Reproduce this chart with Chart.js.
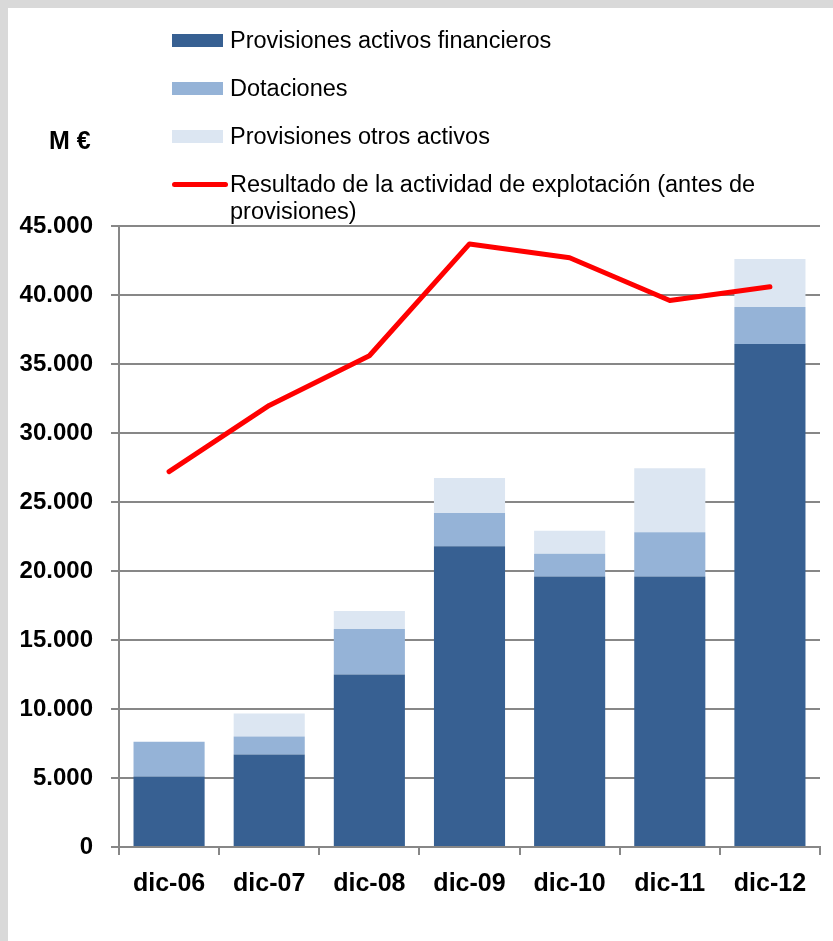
<!DOCTYPE html>
<html>
<head>
<meta charset="utf-8">
<script src="https://cdn.jsdelivr.net/npm/chart.js@4.4.1/dist/chart.umd.min.js"></script>
<style>
  html, body { margin: 0; padding: 0; }
  body { width: 833px; height: 941px; background: #d9d9d9; position: relative; overflow: hidden;
         font-family: "Liberation Sans", Arial, sans-serif; }
  #panel { position: absolute; left: 8px; top: 8px; width: 825px; height: 933px; background: #fff; }
  #grafico { position: absolute; left: 0; top: 0; }
  #unidad { position: absolute; left: 41px; top: 119px; font-weight: bold; font-size: 25px; line-height: 27px; }
  #leyenda { position: absolute; left: 164px; top: 19px; margin: 0; padding: 0; list-style: none; }
  #leyenda li { display: flex; align-items: flex-start; margin-bottom: 21px; font-size: 23.5px; line-height: 27px; color: #000; }
  #leyenda .caja { width: 51px; height: 13px; margin-top: 7px; margin-right: 7px; flex: none; }
  #leyenda .linea { width: 56px; height: 5px; margin-top: 11px; margin-right: 2px; flex: none; border-radius: 3px; }
  #leyenda .texto { max-width: 555px; }
</style>
</head>
<body>
<div id="panel">
  <canvas id="grafico" width="825" height="933"></canvas>
  <div id="unidad">M €</div>
  <ul id="leyenda"></ul>
</div>
<script>
// Datos del gráfico (M €)
const categorias = ["dic-06", "dic-07", "dic-08", "dic-09", "dic-10", "dic-11", "dic-12"];
const provActivosFinancieros = [5100, 6700, 12500, 21800, 19600, 19600, 36450];
const dotaciones = [2500, 1300, 3300, 2400, 1650, 3200, 2680];
const provOtrosActivos = [60, 1670, 1300, 2540, 1670, 4640, 3480];
const resultadoExplotacion = [27200, 32000, 35600, 43700, 42700, 39600, 40600];
const ejeYMax = 45000;
const ejeYPaso = 5000;

const fuente = "'Liberation Sans', Arial, sans-serif";
const gris = "#878787";

// formato 45.000
function miles(v) {
  return String(v).replace(/\B(?=(\d{3})+(?!\d))/g, ".");
}

const data = {
  labels: categorias,
  datasets: [
    {
      label: "Provisiones activos financieros",
      data: provActivosFinancieros,
      backgroundColor: "#376092",
      order: 1,
    },
    {
      label: "Dotaciones",
      data: dotaciones,
      backgroundColor: "#95b3d7",
      order: 1,
    },
    {
      label: "Provisiones otros activos",
      data: provOtrosActivos,
      backgroundColor: "#dce6f2",
      order: 1,
    },
    {
      type: "line",
      label: "Resultado de la actividad de explotación (antes de provisiones)",
      data: resultadoExplotacion,
      stack: "resultado",
      borderColor: "#ff0000",
      backgroundColor: "#ff0000",
      borderWidth: 5,
      borderCapStyle: "round",
      borderJoinStyle: "round",
      pointRadius: 0,
      tension: 0,
      fill: false,
      order: 0,
    },
  ],
};

const grafico = new Chart(document.getElementById("grafico"), {
  type: "bar",
  data,
  options: {
    responsive: false,
    animation: false,
    devicePixelRatio: 1,
    layout: { padding: { top: 218, right: 13, left: 0, bottom: 0 } },
    datasets: { bar: { categoryPercentage: 1, barPercentage: 0.71 } },
    plugins: { legend: { display: false }, tooltip: { enabled: false } },
    scales: {
      x: {
        stacked: true,
        afterFit: (s) => { s.height = 94; },
        grid: { drawOnChartArea: false, drawTicks: true, tickLength: 8, color: gris, lineWidth: 2 },
        border: { display: true, color: gris, width: 2 },
        ticks: { color: "#000", padding: 14, font: { family: fuente, size: 25, weight: "bold" } },
      },
      y: {
        stacked: true,
        min: 0,
        max: ejeYMax,
        afterFit: (s) => { s.width = 111; },
        grid: { color: gris, lineWidth: 2, tickLength: 8, drawTicks: true },
        border: { display: true, color: gris, width: 2 },
        ticks: {
          stepSize: ejeYPaso,
          color: "#000",
          padding: 18,
          font: { family: fuente, size: 24, weight: "bold" },
          callback: (v) => miles(v),
        },
      },
    },
  },
});

// Leyenda en HTML a partir de los datasets
const leyenda = document.getElementById("leyenda");
grafico.data.datasets.forEach((ds) => {
  const li = document.createElement("li");
  const marca = document.createElement("span");
  marca.className = ds.type === "line" ? "linea" : "caja";
  marca.style.background = ds.type === "line" ? ds.borderColor : ds.backgroundColor;
  const texto = document.createElement("span");
  texto.className = "texto";
  texto.textContent = ds.label;
  li.appendChild(marca);
  li.appendChild(texto);
  leyenda.appendChild(li);
});
</script>
</body>
</html>
